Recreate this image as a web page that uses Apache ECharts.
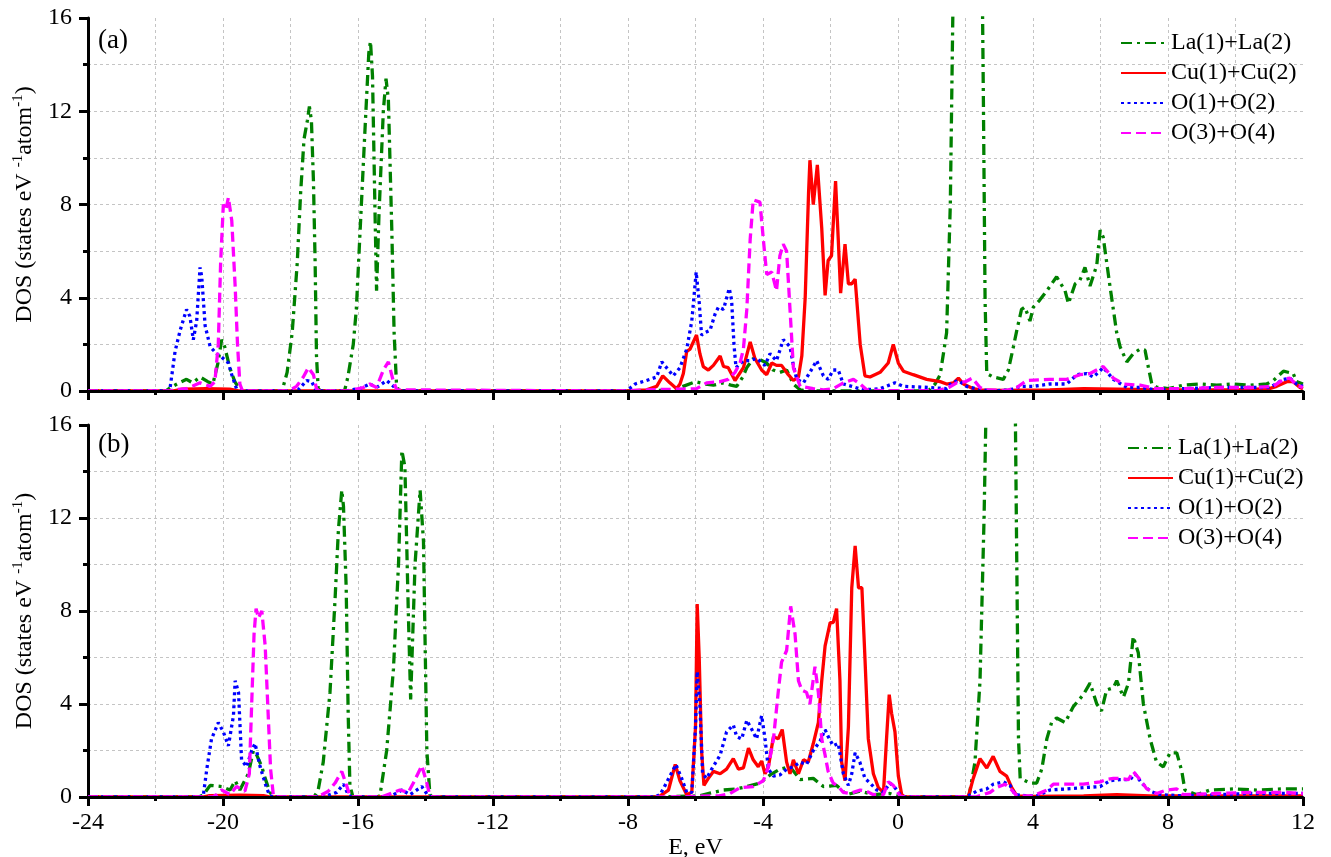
<!DOCTYPE html>
<html>
<head>
<meta charset="utf-8">
<title>DOS</title>
<script src="https://cdn.jsdelivr.net/npm/echarts@6/dist/echarts.min.js"></script>
<style>
  html, body { margin: 0; padding: 0; background: #fff; }
  #chart { width: 1331px; height: 857px; }
</style>
</head>
<body>
<div id="chart"></div>
<script>
// 图例名称
const seriesNames = ['La(1)+La(2)', 'Cu(1)+Cu(2)', 'O(1)+O(2)', 'O(3)+O(4)'];

// (a) 面板数据 [E, DOS]
const laA = [[-24,0],[-21.7,0],[-21.55,0.15],[-21.3,0.35],[-21.08,0.5],[-20.9,0.35],[-20.68,0.6],[-20.45,0.4],[-20.3,0.3],[-20.15,1.2],[-20.04,2.2],[-19.95,1.9],[-19.8,1.0],[-19.65,0.4],[-19.5,0.05],[-19.4,0],
  [-18.25,0],[-18.1,0.8],[-17.95,2.5],[-17.8,5.5],[-17.7,8.5],[-17.6,10.8],[-17.5,11.6],[-17.44,12.2],[-17.38,11.6],[-17.32,9.0],[-17.27,5.5],[-17.23,1.5],[-17.18,0.1],[-17.1,0],
  [-16.4,0],[-16.3,0.6],[-16.14,2.0],[-16.05,3.5],[-15.94,6.8],[-15.8,11.0],[-15.68,14.5],[-15.63,15.0],[-15.57,13.5],[-15.5,8.0],[-15.45,4.3],[-15.38,7.5],[-15.25,12.0],[-15.17,13.4],[-15.1,12.5],[-15.0,7.0],[-14.93,2.5],[-14.86,0.3],[-14.8,0],
  [-8.1,0],[-7.5,0],[-6.8,0.05],[-6.46,0.15],[-6.0,0.4],[-5.7,0.3],[-5.47,0.25],[-5.17,0.35],[-4.95,0.25],[-4.78,0.2],[-4.6,0.6],[-4.48,1.0],[-4.29,1.4],[-4.1,1.35],[-3.89,1.2],[-3.7,0.9],[-3.5,0.8],[-3.3,0.9],[-3.1,0.3],[-2.9,0.05],[-2.7,0],
  [0.9,0],[1.1,0.3],[1.25,0.7],[1.44,2.5],[1.55,8],[1.66,20],[2.0,28],[2.48,20],[2.53,12.5],[2.58,3.9],[2.63,0.75],[2.82,0.6],[3.12,0.5],[3.27,0.9],[3.42,1.9],[3.52,2.6],[3.66,3.5],[3.76,3.6],[3.91,3.0],[4.01,3.6],[4.2,3.9],[4.41,4.3],[4.7,4.9],[4.95,4.3],[5.05,3.75],[5.25,4.6],[5.39,4.75],[5.54,5.3],[5.69,4.5],[5.89,5.4],[5.99,6.9],[6.08,6.6],[6.28,4.5],[6.48,2.5],[6.58,1.9],[6.78,1.25],[6.97,1.6],[7.17,1.8],[7.32,1.75],[7.42,1.0],[7.52,0.3],[7.66,0.17],[8.01,0.1],[8.45,0.25],[8.95,0.3],[9.44,0.25],[9.94,0.3],[10.43,0.25],[10.92,0.3],[11.12,0.45],[11.42,0.85],[11.71,0.75],[11.81,0.4],[12,0.3]];
const cuA = [[-24,0],[-21.5,0],[-21.2,0.08],[-20.5,0.1],[-19.8,0.08],[-19.5,0],
  [-8.0,0],[-7.45,0.05],[-7.15,0.2],[-6.97,0.65],[-6.76,0.35],[-6.56,0.1],[-6.46,0.3],[-6.36,0.75],[-6.26,1.7],[-6.16,1.8],[-5.97,2.4],[-5.87,1.6],[-5.77,1.05],[-5.62,0.9],[-5.47,1.1],[-5.27,1.5],[-5.17,1.05],[-5.03,1.0],[-4.83,0.45],[-4.58,1.0],[-4.38,2.1],[-4.24,1.4],[-4.04,0.9],[-3.89,0.7],[-3.74,1.2],[-3.6,1.1],[-3.45,1.1],[-3.25,0.7],[-3.1,0.45],[-2.95,0.6],[-2.85,1.5],[-2.75,4.0],[-2.65,8.5],[-2.61,9.9],[-2.51,8.0],[-2.39,9.7],[-2.26,7.0],[-2.16,4.1],[-2.07,5.6],[-1.97,5.8],[-1.85,9.0],[-1.77,6.5],[-1.7,4.2],[-1.57,6.3],[-1.47,4.6],[-1.37,4.6],[-1.27,4.8],[-1.12,2.0],[-0.98,0.65],[-0.83,0.6],[-0.53,0.8],[-0.29,1.2],[-0.14,2.0],[0.01,1.2],[0.16,0.85],[0.45,0.7],[0.85,0.5],[1.25,0.4],[1.44,0.3],[1.64,0.35],[1.79,0.55],[1.94,0.3],[2.23,0.1],[2.43,0.05],[3.0,0.03],[4.5,0.05],[5.5,0.1],[6.5,0.08],[8,0.05],[10,0.05],[11.0,0.1],[11.22,0.2],[11.52,0.4],[11.71,0.4],[11.91,0.15],[12,0.1]];
const o12A = [[-24,0],[-21.65,0],[-21.57,0.1],[-21.42,1.7],[-21.27,2.6],[-21.08,3.5],[-20.98,3.2],[-20.88,2.2],[-20.78,3.0],[-20.68,5.3],[-20.63,4.9],[-20.53,2.8],[-20.38,1.9],[-20.19,1.6],[-20.04,1.45],[-19.84,1.2],[-19.74,0.7],[-19.6,0.1],[-19.5,0],
  [-17.9,0],[-17.77,0.05],[-17.52,0.45],[-17.37,0.4],[-17.27,0.1],[-17.2,0],
  [-16.3,0],[-16.24,0.05],[-15.94,0.1],[-15.65,0.3],[-15.45,0.15],[-15.15,0.45],[-14.95,0.2],[-14.85,0],
  [-8.1,0],[-8.0,0.05],[-7.79,0.3],[-7.45,0.45],[-7.15,0.6],[-7.0,1.25],[-6.8,0.9],[-6.66,0.65],[-6.46,1.0],[-6.26,1.8],[-6.11,3.0],[-5.98,5.1],[-5.89,3.8],[-5.82,2.4],[-5.72,2.5],[-5.57,2.6],[-5.42,3.3],[-5.32,3.6],[-5.17,3.5],[-5.0,4.4],[-4.93,3.9],[-4.86,2.0],[-4.8,1.0],[-4.58,1.3],[-4.38,1.3],[-4.19,1.4],[-3.94,1.1],[-3.79,1.6],[-3.6,1.3],[-3.4,2.2],[-3.2,1.9],[-3.1,1.1],[-3.0,0.5],[-2.8,0.35],[-2.61,0.8],[-2.41,1.3],[-2.21,0.65],[-2.07,0.5],[-1.92,0.9],[-1.77,0.9],[-1.62,0.3],[-1.37,0.2],[-1.03,0.05],[-0.53,0.1],[-0.09,0.35],[0.16,0.2],[0.95,0.15],[1.44,0.1],[1.6,0.35],[1.79,0.45],[2.03,0.2],[2.43,0.05],[2.82,0],[3.32,0.05],[3.62,0.2],[4.01,0.2],[4.5,0.3],[5.0,0.3],[5.3,0.7],[5.59,0.75],[5.79,0.6],[6.08,1.0],[6.38,0.5],[6.78,0.15],[7.17,0.15],[7.66,0.05],[8.45,0.1],[9.44,0.15],[10.43,0.15],[11.02,0.15],[11.42,0.5],[11.61,0.55],[11.81,0.3],[12,0.2]];
const o34A = [[-24,0],[-21.6,0],[-21.47,0.05],[-21.08,0.1],[-20.68,0.35],[-20.38,0.2],[-20.24,0.4],[-20.14,2.0],[-20.07,5.5],[-19.99,8.0],[-19.91,7.8],[-19.84,8.3],[-19.74,7.3],[-19.64,4.5],[-19.57,2.0],[-19.5,0.3],[-19.42,0],
  [-18.1,0],[-18.0,0.05],[-17.82,0.2],[-17.62,0.6],[-17.47,1.0],[-17.32,0.7],[-17.23,0.1],[-17.15,0],
  [-16.2,0],[-16.14,0.05],[-15.84,0.15],[-15.65,0.3],[-15.45,0.15],[-15.25,0.9],[-15.1,1.25],[-14.95,0.4],[-14.85,0.05],[-14.8,0],
  [-8.1,0],[-7.5,0.05],[-6.5,0.08],[-5.97,0.1],[-5.67,0.35],[-5.27,0.4],[-5.03,0.5],[-4.83,0.8],[-4.68,1.2],[-4.58,1.8],[-4.48,3.5],[-4.38,6.5],[-4.29,8.2],[-4.09,8.1],[-3.99,6.5],[-3.89,5.0],[-3.74,5.1],[-3.6,4.3],[-3.5,5.8],[-3.4,6.3],[-3.3,6.0],[-3.2,3.5],[-3.1,1.0],[-2.9,0.2],[-2.51,0.1],[-2.21,0.05],[-1.92,0.1],[-1.62,0.35],[-1.32,0.5],[-1.12,0.3],[-0.93,0.05],[-0.5,0.02],[1.2,0.02],[1.5,0.15],[1.74,0.35],[2.0,0.4],[2.2,0.55],[2.43,0.15],[2.6,0.05],[3.2,0.02],[3.52,0.15],[3.81,0.45],[4.5,0.5],[5.0,0.5],[5.39,0.7],[5.69,0.75],[6.08,1.05],[6.38,0.55],[6.68,0.3],[7.17,0.25],[7.66,0.1],[8.45,0.1],[9.44,0.15],[10.43,0.15],[11.12,0.2],[11.42,0.5],[11.61,0.55],[11.81,0.25],[12,0.15]];

// (b) 面板数据 [E, DOS]
const laB = [[-24,0],[-20.7,0],[-20.58,0.1],[-20.38,0.5],[-20.04,0.45],[-19.79,0.3],[-19.64,0.7],[-19.5,0.3],[-19.25,1.0],[-19.1,2.0],[-19.0,1.8],[-18.85,1.3],[-18.75,0.8],[-18.61,0.2],[-18.5,0],
  [-17.3,0],[-17.18,0.3],[-17.03,1.5],[-16.83,4.5],[-16.68,8.5],[-16.58,11.5],[-16.48,13.2],[-16.43,12.5],[-16.35,9.0],[-16.29,3.5],[-16.24,0.5],[-16.15,0],
  [-15.45,0],[-15.35,0.05],[-15.15,2.0],[-14.95,5.5],[-14.8,10.0],[-14.7,14.9],[-14.61,14.2],[-14.51,8.0],[-14.44,4.2],[-14.31,10.0],[-14.16,13.2],[-14.06,11.0],[-13.96,2.0],[-13.87,0.1],[-13.8,0],
  [-7.2,0],[-5.87,0.05],[-5.47,0.2],[-5.17,0.3],[-4.78,0.35],[-4.48,0.45],[-4.09,0.6],[-3.79,0.95],[-3.5,1.2],[-3.2,1.3],[-2.9,0.75],[-2.51,0.8],[-2.21,0.45],[-1.82,0.5],[-1.52,0.1],[-1.13,0.25],[-0.73,0.1],[-0.24,0.15],[0.06,0],
  [2.1,0],[2.28,1.5],[2.43,5.0],[2.55,12.0],[2.65,20],[3.0,30],[3.44,22],[3.52,10.0],[3.57,2.5],[3.62,0.8],[3.91,0.6],[4.11,0.6],[4.26,1.2],[4.41,2.5],[4.55,3.2],[4.7,3.4],[4.95,3.2],[5.2,3.9],[5.49,4.4],[5.69,4.9],[5.89,4.0],[6.03,3.7],[6.18,4.6],[6.38,4.7],[6.48,5.0],[6.68,4.3],[6.83,4.9],[6.97,6.9],[7.12,6.2],[7.27,4.0],[7.47,2.5],[7.66,1.5],[7.86,1.3],[8.06,1.9],[8.26,1.9],[8.41,1.1],[8.5,0.3],[8.85,0.1],[9.24,0.3],[9.94,0.35],[10.63,0.3],[11.42,0.35],[12,0.35]];
const cuB = [[-24,0],[-20.6,0],[-20.4,0.06],[-19.5,0.08],[-18.8,0.06],[-18.6,0],
  [-7.2,0],[-7.05,0.05],[-6.8,0.3],[-6.6,1.4],[-6.46,0.7],[-6.26,0.1],[-6.11,0.2],[-6.0,3.0],[-5.95,8.3],[-5.89,6.0],[-5.82,2.0],[-5.75,0.5],[-5.62,0.8],[-5.47,1.1],[-5.27,1.0],[-5.08,1.2],[-4.88,1.65],[-4.73,1.2],[-4.58,1.25],[-4.43,2.1],[-4.29,1.6],[-4.14,1.3],[-4.04,1.55],[-3.94,1.0],[-3.84,1.3],[-3.69,2.6],[-3.55,2.5],[-3.43,2.9],[-3.3,1.5],[-3.2,1.0],[-3.1,1.6],[-2.95,1.0],[-2.8,1.6],[-2.66,1.5],[-2.51,2.3],[-2.36,3.2],[-2.26,5.0],[-2.16,6.5],[-2.01,7.5],[-1.92,7.5],[-1.82,8.1],[-1.72,5.0],[-1.67,1.5],[-1.57,0.7],[-1.47,3.0],[-1.37,9.0],[-1.27,10.8],[-1.17,9.0],[-1.07,9.0],[-0.98,6.0],[-0.88,2.5],[-0.73,1.0],[-0.58,0.4],[-0.43,0.2],[-0.34,2.5],[-0.26,4.4],[-0.19,3.6],[-0.09,2.8],[0.01,0.9],[0.11,0.1],[0.2,0],
  [2.08,0],[2.23,0.8],[2.43,1.65],[2.63,1.25],[2.82,1.75],[3.02,1.1],[3.22,0.9],[3.37,0.4],[3.52,0.05],[4.0,0.03],[5.5,0.05],[6.48,0.1],[7.47,0.05],[9,0.05],[12,0.05]];
const o12B = [[-24,0],[-20.7,0],[-20.58,0.1],[-20.48,1.2],[-20.34,2.5],[-20.14,3.2],[-19.99,2.8],[-19.84,2.2],[-19.69,3.5],[-19.64,5.0],[-19.54,4.5],[-19.45,1.6],[-19.3,1.3],[-19.15,2.0],[-19.05,2.3],[-18.9,1.3],[-18.71,0.4],[-18.61,0.05],[-18.5,0],
  [-17.1,0],[-16.93,0.05],[-16.63,0.2],[-16.43,0.55],[-16.29,0.1],[-16.2,0],
  [-15.1,0],[-14.95,0.1],[-14.7,0.3],[-14.46,0.1],[-14.11,0.45],[-13.92,0.05],[-13.8,0],
  [-7.2,0],[-7.05,0.1],[-6.9,0.5],[-6.58,1.4],[-6.41,0.8],[-6.26,0.2],[-6.11,0.2],[-6.0,3.0],[-5.95,5.4],[-5.87,4.0],[-5.79,1.0],[-5.67,0.8],[-5.52,1.2],[-5.27,1.8],[-5.08,2.8],[-4.88,3.1],[-4.78,2.6],[-4.63,2.5],[-4.48,3.3],[-4.33,2.9],[-4.19,2.5],[-4.04,3.5],[-3.94,2.5],[-3.84,1.2],[-3.69,0.9],[-3.5,0.95],[-3.3,1.2],[-3.1,1.3],[-2.9,1.5],[-2.71,1.4],[-2.51,2.0],[-2.31,2.4],[-2.16,2.9],[-2.07,2.6],[-1.92,2.2],[-1.77,2.3],[-1.62,1.0],[-1.47,0.5],[-1.37,1.0],[-1.27,1.9],[-1.13,1.5],[-0.98,0.8],[-0.83,0.6],[-0.63,0.3],[-0.43,0.2],[-0.24,0.6],[-0.09,0.4],[0.06,0.1],[0.2,0],
  [1.95,0],[2.08,0.05],[2.33,0.25],[2.63,0.35],[2.82,0.55],[3.12,0.65],[3.32,0.5],[3.47,0.1],[3.81,0.05],[4.11,0.05],[4.5,0.3],[5.0,0.35],[5.49,0.4],[5.99,0.45],[6.28,0.7],[6.58,0.75],[6.88,0.75],[7.02,1.0],[7.22,0.6],[7.47,0.25],[7.76,0.1],[8.45,0.05],[9.44,0.1],[10.43,0.15],[11.42,0.15],[12,0.15]];
const o34B = [[-24,0],[-20.3,0],[-20.19,0.1],[-20.04,0.3],[-19.79,0.1],[-19.6,0.45],[-19.35,0.25],[-19.22,1.0],[-19.15,4.0],[-19.08,7.0],[-19.02,8.1],[-18.95,7.7],[-18.85,8.0],[-18.75,6.5],[-18.66,3.5],[-18.59,1.2],[-18.51,0.1],[-18.45,0],
  [-17.2,0],[-17.13,0.05],[-16.88,0.25],[-16.68,0.6],[-16.48,1.1],[-16.34,0.5],[-16.24,0.05],[-16.15,0],
  [-15.3,0],[-15.25,0.05],[-14.95,0.2],[-14.76,0.3],[-14.51,0.2],[-14.36,0.6],[-14.11,1.35],[-13.96,0.6],[-13.87,0.05],[-13.8,0],
  [-6.8,0],[-6.0,0.03],[-5.3,0.05],[-4.98,0.15],[-4.68,0.4],[-4.29,0.45],[-3.99,0.7],[-3.84,1.3],[-3.69,2.5],[-3.55,4.5],[-3.45,5.8],[-3.3,6.3],[-3.18,8.2],[-3.05,7.0],[-2.95,5.0],[-2.85,4.6],[-2.71,4.5],[-2.61,4.0],[-2.46,5.6],[-2.36,4.5],[-2.26,2.5],[-2.16,1.8],[-2.07,1.1],[-1.92,0.6],[-1.77,0.45],[-1.62,0.2],[-1.42,0.15],[-1.12,0.3],[-0.93,0.25],[-0.73,0.1],[-0.43,0.1],[-0.29,0.65],[-0.14,0.5],[0.06,0.05],[0.2,0],
  [2.3,0],[2.73,0.2],[2.92,0.4],[3.17,0.55],[3.37,0.3],[3.52,0.05],[4.01,0.05],[4.41,0.3],[4.6,0.55],[5.0,0.55],[5.49,0.55],[5.99,0.65],[6.18,0.75],[6.38,0.8],[6.58,0.8],[6.83,0.75],[6.97,1.1],[7.17,0.75],[7.37,0.35],[7.66,0.15],[7.96,0.3],[8.26,0.35],[8.45,0.1],[9.44,0.15],[10.43,0.2],[11.42,0.2],[12,0.15]];

const FONT = '"Liberation Serif", "Times New Roman", serif';
const GRID_LINE = { color: '#c4c4c4', type: [3, 3], width: 1 };

// 线型：颜色 + 虚线样式
const lineStyles = [
  { color: '#008000', width: 3.3, type: [11, 5, 3, 5] },
  { color: '#ff0000', width: 3.3, type: 'solid' },
  { color: '#0000ff', width: 3.3, type: [3, 3.5] },
  { color: '#ff00ff', width: 3.3, type: [10, 5] }
];

// 主 x 轴：轴线/刻度/标签，放在曲线上层
function makeXAxis(gridIndex, showLabel) {
  return {
    type: 'value',
    gridIndex: gridIndex,
    min: -24,
    max: 12,
    interval: 4,
    z: 5,
    name: showLabel ? 'E, eV' : '',
    nameLocation: 'middle',
    nameGap: 36,
    nameTextStyle: { fontFamily: FONT, fontSize: 24, color: '#000' },
    axisLine: { show: true, onZero: false, lineStyle: { color: '#000', width: 3 } },
    axisTick: { show: true, inside: false, length: 9, lineStyle: { color: '#000', width: 3 } },
    minorTick: { show: true, splitNumber: 2, length: 4, lineStyle: { color: '#000', width: 3 } },
    axisLabel: { show: showLabel, margin: 14, fontFamily: FONT, fontSize: 24, color: '#000' },
    splitLine: { show: false }
  };
}

// 网格线用的 x 轴（放在曲线下层）
function makeXGridAxis(gridIndex) {
  return {
    type: 'value',
    gridIndex: gridIndex,
    min: -24,
    max: 12,
    interval: 4,
    position: 'bottom',
    axisLine: { show: false },
    axisTick: { show: false },
    axisLabel: { show: false },
    minorTick: { show: false, splitNumber: 2 },
    splitLine: { show: true, showMinLine: false, showMaxLine: false, lineStyle: GRID_LINE },
    minorSplitLine: { show: true, lineStyle: GRID_LINE }
  };
}

function makeYAxis(gridIndex) {
  return {
    type: 'value',
    gridIndex: gridIndex,
    min: 0,
    max: 16,
    interval: 4,
    name: '{t|DOS (states eV }{s|-1}{t|atom}{s|-1}{t|)}',
    nameLocation: 'middle',
    nameGap: 42,
    nameTextStyle: {
      color: '#000',
      rich: {
        t: { fontFamily: FONT, fontSize: 24, lineHeight: 30, color: '#000' },
        s: { fontFamily: FONT, fontSize: 15, lineHeight: 16, verticalAlign: 'top', color: '#000' }
      }
    },
    axisLine: { show: true, onZero: false, lineStyle: { color: '#000', width: 3 } },
    axisTick: { show: true, inside: false, length: 9, lineStyle: { color: '#000', width: 3 } },
    minorTick: { show: true, splitNumber: 2, length: 5, lineStyle: { color: '#000', width: 3 } },
    axisLabel: { margin: 16, fontFamily: FONT, fontSize: 24, color: '#000' },
    splitLine: { show: true, showMinLine: false, showMaxLine: false, lineStyle: GRID_LINE },
    minorSplitLine: { show: true, lineStyle: GRID_LINE }
  };
}

function makeSeries(data, idx, gridIndex) {
  return {
    name: seriesNames[idx],
    type: 'line',
    xAxisIndex: gridIndex,
    yAxisIndex: gridIndex,
    data: data,
    symbol: 'none',
    clip: true,
    itemStyle: { color: lineStyles[idx].color },
    lineStyle: lineStyles[idx]
  };
}

function makeLegend(left, top) {
  return {
    data: seriesNames,
    orient: 'vertical',
    left: left,
    top: top,
    itemWidth: 45,
    itemHeight: 14,
    itemGap: 6,
    // 隐藏图例里的圆点，只留线段
    itemStyle: { color: 'rgba(0,0,0,0)', borderColor: 'rgba(0,0,0,0)', borderWidth: 0 },
    textStyle: { fontFamily: FONT, fontSize: 24, color: '#000' },
    selectedMode: false
  };
}

const myChart = echarts.init(document.getElementById('chart'));
const chartOption = {
  animation: false,
  backgroundColor: '#fff',
  grid: [
    { left: 88, right: 28, top: 18, height: 373, outerBoundsMode: 'none' },
    { left: 88, right: 28, top: 425, height: 372, outerBoundsMode: 'none' }
  ],
  xAxis: [makeXAxis(0, false), makeXAxis(1, true), makeXGridAxis(0), makeXGridAxis(1)],
  yAxis: [makeYAxis(0), makeYAxis(1)],
  legend: [makeLegend(1115, 26), makeLegend(1122, 431)],
  graphic: [
    { type: 'text', left: 98, top: 27, style: { text: '(a)', font: '27px ' + FONT, fill: '#000' } },
    { type: 'text', left: 98, top: 431, style: { text: '(b)', font: '27px ' + FONT, fill: '#000' } }
  ],
  series: [
    makeSeries(laA, 0, 0), makeSeries(cuA, 1, 0), makeSeries(o12A, 2, 0), makeSeries(o34A, 3, 0),
    makeSeries(laB, 0, 1), makeSeries(cuB, 1, 1), makeSeries(o12B, 2, 1), makeSeries(o34B, 3, 1)
  ]
};
myChart.setOption(chartOption);
</script>
</body>
</html>
